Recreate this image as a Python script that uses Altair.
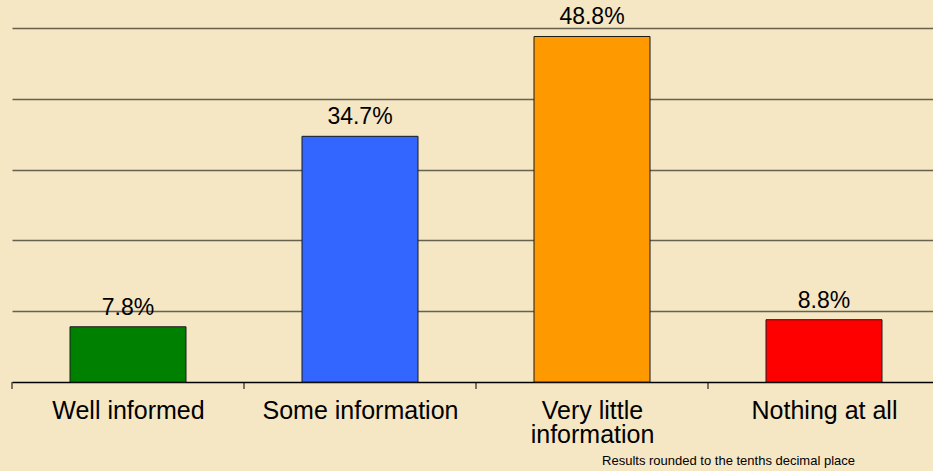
import json
import altair as alt
import pandas as pd

categories = ["Well informed", "Some information", "Very little information", "Nothing at all"]
values = [7.8, 34.7, 48.8, 8.8]
labels = ["7.8%", "34.7%", "48.8%", "8.8%"]
colors = ["#008000", "#3366FF", "#FF9900", "#FF0000"]
grid_values = [10, 20, 30, 40, 50]
footnote = "Results rounded to the tenths decimal place"

df = pd.DataFrame({"category": categories, "value": values, "label": labels,
                   "idx": list(range(len(categories)))})
FONT = "Liberation Sans"
W, H = 921, 354
STEP = 232  # pixels per category slot

# axis labels (long one wrapped onto two lines)
wrapped = [["Very little", "information"] if c == "Very little information" else c for c in categories]
label_expr = f"{json.dumps(wrapped)}[floor(datum.value)]"

xscale = alt.Scale(domain=[0, W / STEP], nice=False, zero=False)
yscale = alt.Scale(domain=[0, 50], nice=False)

base = alt.Chart(df).transform_calculate(
    x0="datum.idx + 0.25", x1="datum.idx + 0.75", xc="datum.idx + 0.5"
)

bars = base.mark_bar(stroke="#1a1a1a", strokeWidth=1).encode(
    x=alt.X("x0:Q", scale=xscale,
            axis=alt.Axis(title=None, labelAngle=0, ticks=False, labelPadding=16, grid=False,
                          values=[i + 0.5 for i in range(len(categories))],
                          labelFontSize=25, labelFont=FONT, labelColor="#000000",
                          labelLineHeight=24, domainColor="#000000", domainWidth=1.5,
                          labelLimit=300, labelFlush=False, labelOverlap=False,
                          labelExpr=label_expr)),
    x2="x1:Q",
    y=alt.Y("value:Q", scale=yscale,
            axis=alt.Axis(title=None, labels=False, ticks=False, domain=False, values=grid_values,
                          grid=True, gridColor="#66624f", gridWidth=1.5)),
    y2=alt.datum(0),
    color=alt.Color("category:N", scale=alt.Scale(domain=categories, range=colors), legend=None),
)

text = base.mark_text(baseline="alphabetic", dy=-12, fontSize=23, font=FONT, color="#000000").encode(
    x=alt.X("xc:Q", scale=xscale),
    y=alt.Y("value:Q", scale=yscale),
    text="label:N",
)

ticks = base.mark_rule(color="#000000", strokeWidth=1).encode(
    x=alt.X("idx:Q", scale=xscale),
    y=alt.value(H),
    y2=alt.value(H + 7),
)

note = alt.Chart(pd.DataFrame({"t": [footnote]})).mark_text(
    align="right", baseline="alphabetic", fontSize=13, font=FONT, color="#000000"
).encode(x=alt.value(843), y=alt.value(437), text="t:N")

chart = alt.layer(bars, ticks, text, note).properties(
    width=W, height=H, background="#F5E6C4",
    padding={"left": 12, "top": 28, "right": 0, "bottom": 89},
    autosize=alt.AutoSizeParams(type="none"),
).configure_view(stroke=None)

chart.save("out.html", embed_options={"renderer": "svg", "actions": False})
